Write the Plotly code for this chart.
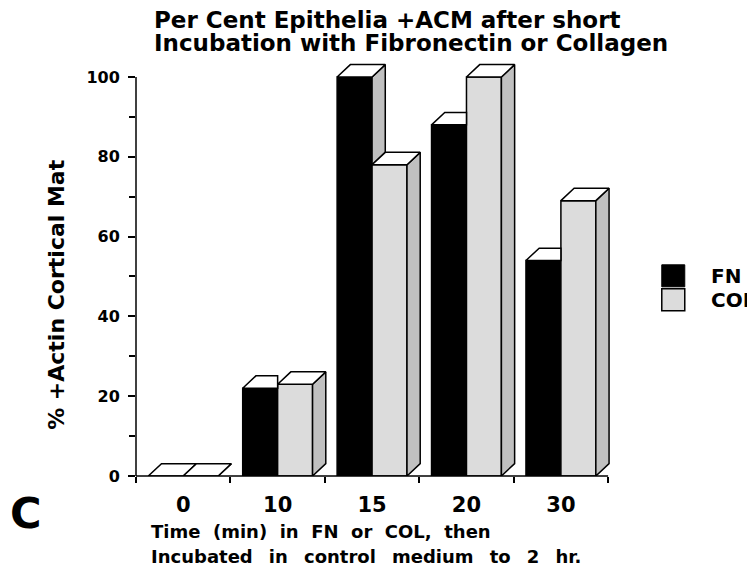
import plotly.graph_objects as go

# ---------------- data ----------------
categories = ["0", "10", "15", "20", "30"]
fn_values = [0, 22, 100, 88, 54]
col_values = [0, 23, 78, 100, 69]
y_ticks = [0, 20, 40, 60, 80, 100]
y_minor = [10, 30, 50, 70, 90]
series_names = ["FN", "COL"]
title_lines = ["Per Cent Epithelia +ACM after short",
               "Incubation with Fibronectin or Collagen"]
y_title = "% +Actin Cortical Mat"
x_title_lines = ["Time  (min)  in  FN  or  COL,  then",
                 "Incubated  \u2009in  \u2009control  \u2009medium  \u2009to  \u20092  \u2009hr."]
panel_letter = "C"

# ---------------- layout geometry / style ----------------
OFF = 8                      # page offset of the figure div (body margin)
W, H = 755 - OFF, 569 - OFF  # figure size
# target plot area in page pixels
PL, PR, PT, PB = 136, 610.2, 57.4, 476
L, T = PL - OFF, PT - OFF
R, B = W - (PR - OFF), H - (PB - OFF)
X_RANGE = [-0.5, 4.52]
Y_RANGE = [0, 105]
plot_w = PR - PL
plot_h = PB - PT


def px(X):
    return (X - PL) / plot_w


def py(Y):
    return (PB - Y) / plot_h


BAR_W = 0.37
DX = 0.14
DY = 3.1
FN_COLOR = "black"
COL_COLOR = "#dcdcdc"
SIDE_COLOR = "#c0c0c0"
TOP_COLOR = "white"
EDGE = dict(color="black", width=1.5)
FONT = "DejaVu Sans"

xs = list(range(len(categories)))

fig = go.Figure()
fig.add_trace(go.Bar(x=xs, y=fn_values, name=series_names[0], offset=-BAR_W, width=BAR_W,
                     marker=dict(color=FN_COLOR, line=EDGE), hoverinfo="skip", showlegend=False))
fig.add_trace(go.Bar(x=xs, y=col_values, name=series_names[1], offset=0, width=BAR_W,
                     marker=dict(color=COL_COLOR, line=EDGE), hoverinfo="skip", showlegend=False))

# 3-D faces (top and side), built from the values
fn_side_x, fn_side_y, fn_top_x, fn_top_y = [], [], [], []
col_side_x, col_side_y, col_top_x, col_top_y = [], [], [], []


def add_poly(lx, ly, pts):
    for (a, b) in pts:
        lx.append(a)
        ly.append(b)
    lx.append(pts[0][0])
    ly.append(pts[0][1])
    lx.append(None)
    ly.append(None)


for i, (v, c) in enumerate(zip(fn_values, col_values)):
    fx0, fx1 = i - BAR_W, i
    cx0, cx1 = i, i + BAR_W
    if v > c:
        add_poly(fn_side_x, fn_side_y, [(fx1, c), (fx1 + DX, c + DY), (fx1 + DX, v + DY), (fx1, v)])
    if v >= c:
        add_poly(fn_top_x, fn_top_y, [(fx0, v), (fx1, v), (fx1 + DX, v + DY), (fx0 + DX, v + DY)])
    else:
        add_poly(fn_top_x, fn_top_y, [(fx0, v), (fx1, v), (fx1, v + DY), (fx0 + DX, v + DY)])
    add_poly(col_side_x, col_side_y, [(cx1, 0), (cx1 + DX, DY), (cx1 + DX, c + DY), (cx1, c)])
    add_poly(col_top_x, col_top_y, [(cx0, c), (cx1, c), (cx1 + DX, c + DY), (cx0 + DX, c + DY)])

for fx, fy, fc in [(fn_side_x, fn_side_y, SIDE_COLOR), (fn_top_x, fn_top_y, TOP_COLOR),
                   (col_side_x, col_side_y, SIDE_COLOR), (col_top_x, col_top_y, TOP_COLOR)]:
    fig.add_trace(go.Scatter(x=fx, y=fy, mode="lines", fill="toself", fillcolor=fc,
                             line=EDGE, hoverinfo="skip", showlegend=False))

fig.update_layout(
    width=W, height=H,
    margin=dict(l=L, r=R, t=T, b=B, autoexpand=False),
    paper_bgcolor="white", plot_bgcolor="white",
    barmode="overlay", showlegend=False,
    font=dict(family=FONT, color="black"),
)

fig.update_xaxes(
    range=X_RANGE, tickmode="array", tickvals=xs, ticktext=categories,
    ticks="outside", ticklen=7, tickcolor="rgba(0,0,0,0)",
    showline=False, showgrid=False, zeroline=False,
    tickfont=dict(family=FONT, size=21, color="black", weight="bold"),
    ticklabelstandoff=3,
    minor=dict(tickmode="array", tickvals=[x - 0.5 for x in xs] + [xs[-1] + 0.5],
               ticks="outside", ticklen=6, tickwidth=1.5, tickcolor="black", showgrid=False),
)
fig.update_yaxes(
    range=Y_RANGE, tickmode="array", tickvals=y_ticks,
    ticks="outside", ticklen=7, tickwidth=1.5, tickcolor="black",
    showline=False, showgrid=False, zeroline=False,
    tickfont=dict(family=FONT, size=16, color="black", weight="bold"),
    ticklabelstandoff=5,
    minor=dict(tickmode="array", tickvals=y_minor, ticks="outside", ticklen=6,
               tickwidth=1.5, tickcolor="black", showgrid=False),
)

# axis lines
fig.add_shape(type="line", xref="paper", yref="y", x0=0, x1=0, y0=0, y1=y_ticks[-1],
              line=dict(color="black", width=1.5))
fig.add_shape(type="line", xref="x", yref="paper", x0=X_RANGE[0], x1=xs[-1] + 0.5, y0=0, y1=0,
              line=dict(color="black", width=1.5))

# legend (manual squares)
fig.add_shape(type="rect", xref="paper", yref="paper", x0=px(662), x1=px(685), y0=py(287), y1=py(265),
              fillcolor=FN_COLOR, line=dict(color="black", width=1))
fig.add_shape(type="rect", xref="paper", yref="paper", x0=px(662), x1=px(685), y0=py(311), y1=py(289),
              fillcolor=COL_COLOR, line=dict(color="black", width=1.5))

ann = []
bold = dict(family=FONT, color="black", weight="bold")
ann.append(dict(text=series_names[0], x=px(709), y=py(276), xanchor="left", yanchor="middle",
                font=dict(size=20, **bold)))
ann.append(dict(text=series_names[1], x=px(709), y=py(300), xanchor="left", yanchor="middle",
                font=dict(size=20, **bold)))
ann.append(dict(text=title_lines[0], x=px(152), y=py(20.5), xanchor="left", yanchor="middle",
                font=dict(size=23, **bold)))
ann.append(dict(text=title_lines[1], x=px(152), y=py(43.5), xanchor="left", yanchor="middle",
                font=dict(size=23, **bold)))
ann.append(dict(text=y_title, x=px(57), y=py(295), xanchor="center", yanchor="middle",
                textangle=-90, font=dict(size=22, **bold)))
ann.append(dict(text=x_title_lines[0], x=px(149), y=py(531), xanchor="left", yanchor="middle",
                font=dict(size=18, **bold)))
ann.append(dict(text=x_title_lines[1], x=px(149), y=py(556), xanchor="left", yanchor="middle",
                font=dict(size=18, **bold)))
ann.append(dict(text=panel_letter, x=px(26), y=py(513), xanchor="center", yanchor="middle",
                font=dict(size=43, **bold)))
for a in ann:
    a.update(xref="paper", yref="paper", showarrow=False)
fig.update_layout(annotations=ann)

fig.write_html("out.html")
